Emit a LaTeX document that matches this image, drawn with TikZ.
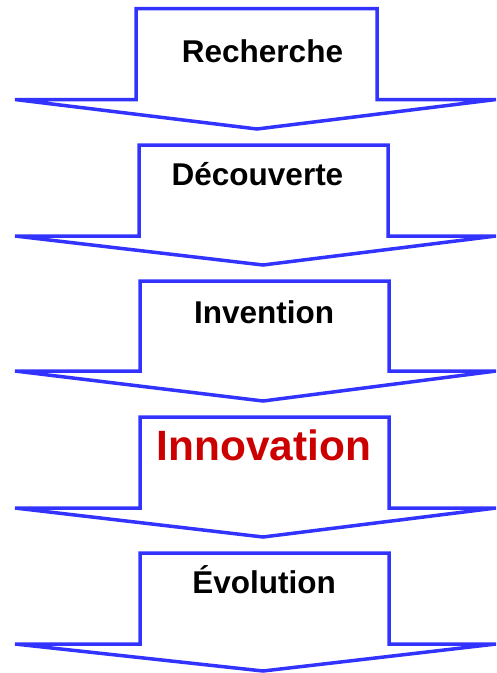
\documentclass[tikz,border=0pt]{standalone}
\usepackage{fontspec}
\setmainfont{Liberation Sans}
\definecolor{arrowblue}{RGB}{51,51,255}
\definecolor{innored}{RGB}{204,0,0}
\begin{document}
\begin{tikzpicture}[x=1pt,y=-1pt,
  bigarrow/.style={draw=arrowblue,line width=3.5pt,line join=miter,fill=white},
  label/.style={anchor=base,inner sep=0pt,font=\bfseries\fontsize{31.5}{31.5}\selectfont},
  hilabel/.style={anchor=base,inner sep=0pt,text=innored,font=\bfseries\fontsize{42.4}{42.4}\selectfont}]
\useasboundingbox (0,0) rectangle (497,673);
% arrow shapes: stem left, stem right, top, head y, tip x, tip y
\draw[bigarrow] (136,8.5) -- (377,8.5) -- (377,99.5) -- (496,99.5) -- (257,129) -- (15,99.5) -- (136,99.5) -- cycle;
\draw[bigarrow] (139,145) -- (388,145) -- (388,236) -- (496,236) -- (263,265) -- (15,236) -- (139,236) -- cycle;
\draw[bigarrow] (140,281) -- (389,281) -- (389,371) -- (496,371) -- (263,401) -- (15,371) -- (140,371) -- cycle;
\draw[bigarrow] (140,417) -- (389,417) -- (389,508) -- (496,508) -- (263,537) -- (15,508) -- (140,508) -- cycle;
\draw[bigarrow] (140,553) -- (389,553) -- (389,644) -- (496,644) -- (263,671) -- (15,644) -- (140,644) -- cycle;
\node[label] (rech) at (262.5,62) {Recherche};
\node[label] (dec) at (257.5,185) {Découverte};
\node[label] (inv) at (264,323) {Invention};
\node[hilabel] (inno) at (264,460) {Innovation};
\node[label] (evo) at (264,593) {Évolution};
\end{tikzpicture}
\end{document}
